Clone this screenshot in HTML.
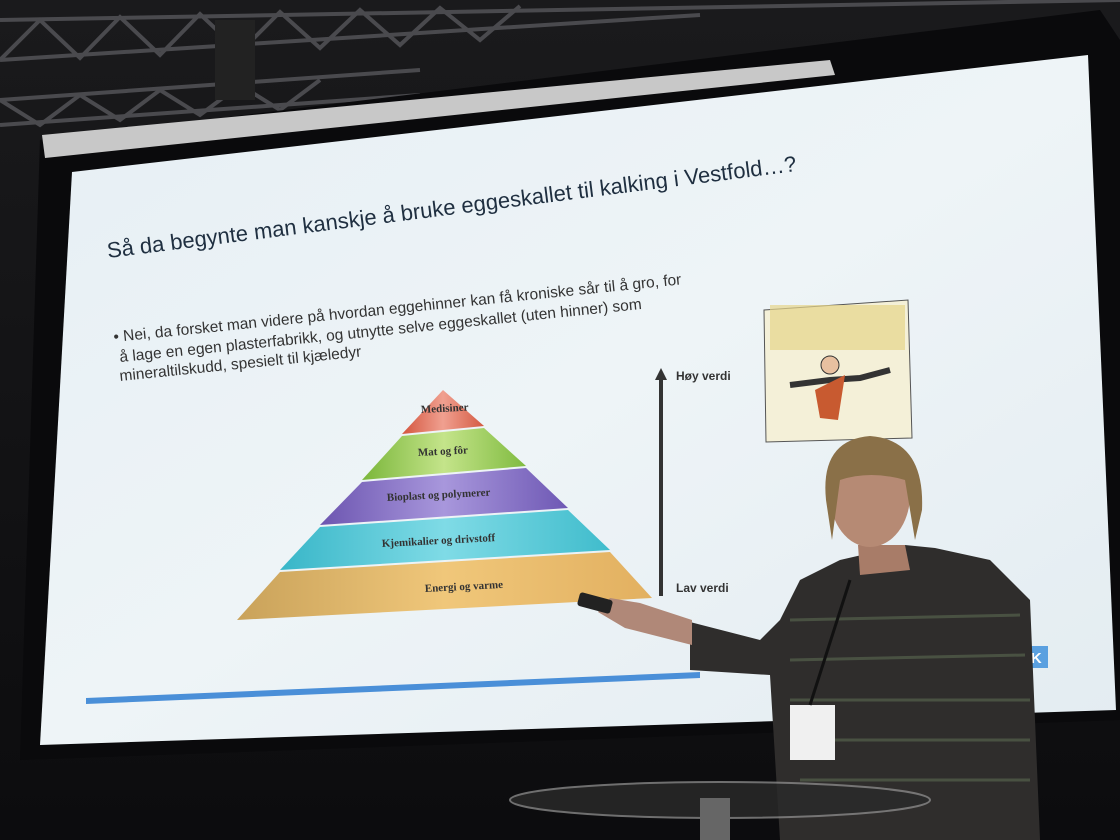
<!DOCTYPE html>
<html><head><meta charset="utf-8"><style>
html,body{margin:0;padding:0;background:#111;}
svg{display:block}
text{font-family:"Liberation Sans",sans-serif}
text.serif{font-family:"Liberation Serif",serif}
</style></head><body>
<svg width="1120" height="840" viewBox="0 0 1120 840" xmlns="http://www.w3.org/2000/svg">
<defs>
<linearGradient id="bg" x1="0" y1="0" x2="0" y2="1"><stop offset="0" stop-color="#1a1a1c"/><stop offset="1" stop-color="#0c0c0e"/></linearGradient>
<linearGradient id="scr" x1="0" y1="0" x2="1" y2="1"><stop offset="0" stop-color="#e6eff4"/><stop offset="0.5" stop-color="#eef4f7"/><stop offset="1" stop-color="#e3ecf1"/></linearGradient>
<linearGradient id="l1" x1="0" x2="1"><stop offset="0" stop-color="#c9a25a"/><stop offset=".5" stop-color="#f0c77a"/><stop offset="1" stop-color="#e2b060"/></linearGradient>
<linearGradient id="l2" x1="0" x2="1"><stop offset="0" stop-color="#38b6c8"/><stop offset=".5" stop-color="#7fdbe6"/><stop offset="1" stop-color="#40bccc"/></linearGradient>
<linearGradient id="l3" x1="0" x2="1"><stop offset="0" stop-color="#6c55b0"/><stop offset=".5" stop-color="#a897dc"/><stop offset="1" stop-color="#6e58b4"/></linearGradient>
<linearGradient id="l4" x1="0" x2="1"><stop offset="0" stop-color="#7ab63a"/><stop offset=".5" stop-color="#c4e48a"/><stop offset="1" stop-color="#80bb40"/></linearGradient>
<linearGradient id="l5" x1="0" x2="1"><stop offset="0" stop-color="#d4553e"/><stop offset=".5" stop-color="#f0a090"/><stop offset="1" stop-color="#d45a42"/></linearGradient>
</defs>
<rect width="1120" height="840" fill="url(#bg)"/>
<g stroke="#4a4a4e" stroke-width="4" fill="none">
<line x1="0" y1="20" x2="1120" y2="0"/><line x1="0" y1="60" x2="700" y2="15"/>
<line x1="0" y1="100" x2="420" y2="70"/><line x1="0" y1="125" x2="420" y2="95"/>
<path d="M0 60 L40 20 L80 58 L120 17 L160 55 L200 14 L240 52 L280 12 L320 48 L360 10 L400 45 L440 8 L480 40 L520 6"/>
<path d="M0 100 L40 125 L80 95 L120 120 L160 90 L200 115 L240 85 L280 110 L320 80"/>
</g>
<rect x="215" y="20" width="40" height="80" fill="#222"/>
<polygon points="40,140 1100,10 1120,40 1120,720 20,760" fill="#0a0a0c"/>
<polygon points="42,135 830,60 835,75 45,158" fill="#c8c8c8"/>
<polygon points="72,172 1088,55 1116,710 40,745" fill="url(#scr)"/>
<polygon points="86,698 700,672 700,678 86,704" fill="#4a8fd8"/>
<rect x="1012" y="646" width="36" height="22" fill="#5aa0e0"/>
<text x="1015" y="663" font-size="15" fill="#fff" font-weight="bold">Ø K</text>
<text x="108" y="258" font-size="22" fill="#1f2f40" transform="rotate(-7.2 108 258)">Så da begynte man kanskje å bruke eggeskallet til kalking i Vestfold…?</text>
<g fill="#333" font-size="15.5">
<text x="114" y="342" transform="rotate(-5.8 114 342)">•  Nei, da forsket man videre på hvordan eggehinner kan få kroniske sår til å gro, for</text>
<text x="120" y="362" transform="rotate(-5.8 120 362)">å lage en egen plasterfabrikk, og utnytte selve eggeskallet (uten hinner) som</text>
<text x="120" y="381" transform="rotate(-5.8 120 381)">mineraltilskudd, spesielt til kjæledyr</text>
</g>
<polygon points="237,620 652,598 610,552 280,572" fill="url(#l1)"/>
<polygon points="280,570 610,550 568,510 320,527" fill="url(#l2)"/>
<polygon points="320,525 568,508 526,468 362,482" fill="url(#l3)"/>
<polygon points="362,480 526,466 484,428 402,436" fill="url(#l4)"/>
<polygon points="402,434 484,426 443,390" fill="url(#l5)"/>
<g font-weight="bold" fill="#333" font-size="11">
<text class="serif" x="425" y="592" transform="rotate(-3 425 592)">Energi og varme</text>
<text class="serif" x="382" y="547" transform="rotate(-3 382 547)">Kjemikalier og drivstoff</text>
<text class="serif" x="387" y="501" transform="rotate(-3 387 501)">Bioplast og polymerer</text>
<text class="serif" x="418" y="456" transform="rotate(-3 418 456)">Mat og fôr</text>
<text class="serif" x="421" y="413" transform="rotate(-3 421 413)">Medisiner</text>
</g>
<line x1="661" y1="378" x2="661" y2="596" stroke="#333" stroke-width="4"/>
<polygon points="655,380 661,368 667,380" fill="#333"/>
<text x="676" y="380" font-size="12" font-weight="bold" fill="#333">Høy verdi</text>
<text x="676" y="592" font-size="12" font-weight="bold" fill="#333">Lav verdi</text>
<polygon points="764,310 908,300 912,438 766,442" fill="#f4f0d8" stroke="#555"/>
<rect x="770" y="305" width="135" height="45" fill="#e6d48a" opacity=".7"/>
<path d="M790 385 L830 380 L860 378 L890 370" stroke="#333" stroke-width="6" fill="none"/>
<polygon points="815,390 845,375 838,420 820,418" fill="#c85a30"/>
<circle cx="830" cy="365" r="9" fill="#e8c0a0" stroke="#333"/>
<path d="M690 622 L690 670 L770 675 L780 840 L1040 840 L1030 600 L990 560 L935 548 L905 545 L840 560 L800 580 L780 620 L760 640 Z" fill="#2f2d2c"/>
<g stroke="#5b6a52" stroke-width="3" opacity=".6">
<line x1="790" y1="620" x2="1020" y2="615"/><line x1="790" y1="660" x2="1025" y2="655"/><line x1="790" y1="700" x2="1030" y2="700"/><line x1="795" y1="740" x2="1030" y2="740"/><line x1="800" y1="780" x2="1030" y2="780"/>
</g>
<path d="M692 620 L640 603 L610 598 L598 612 L625 628 L692 645 Z" fill="#b08878"/>
<rect x="578" y="596" width="34" height="14" rx="3" fill="#222" transform="rotate(15 595 603)"/>
<path d="M858 545 L905 545 L910 570 L860 575 Z" fill="#a87c68"/>
<ellipse cx="870" cy="495" rx="40" ry="52" fill="#b68a74"/>
<path d="M826 500 Q820 440 870 436 Q925 440 922 510 L915 540 L905 480 Q870 470 840 480 L832 540 Z" fill="#8a7048"/>
<rect x="790" y="705" width="45" height="55" fill="#f0f0f0"/>
<line x1="810" y1="705" x2="850" y2="580" stroke="#111" stroke-width="3"/>
<ellipse cx="720" cy="800" rx="210" ry="18" fill="#2a2a2a" stroke="#888" stroke-width="2" opacity=".8"/>
<rect x="700" y="798" width="30" height="42" fill="#666"/>
</svg>
</body></html>
